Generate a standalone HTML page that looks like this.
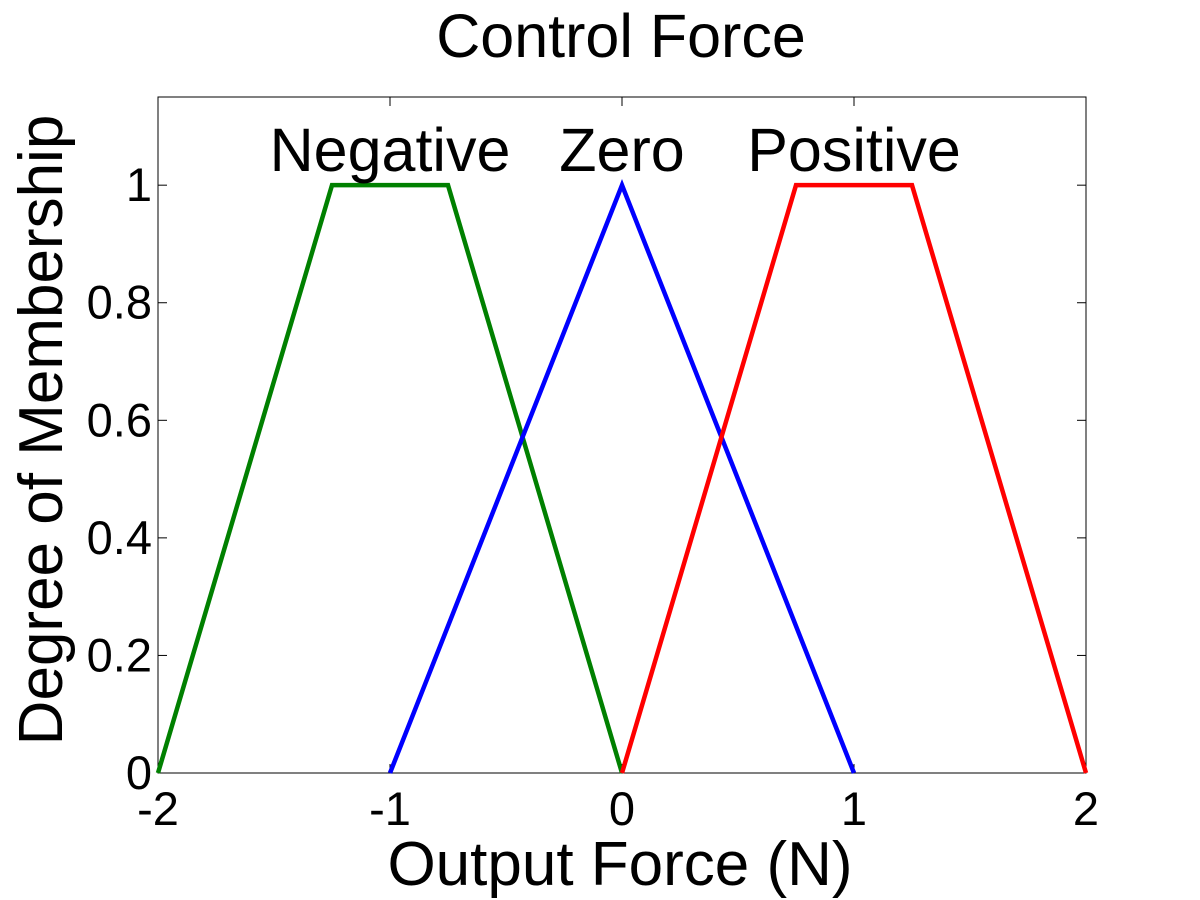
<!DOCTYPE html>
<html><head><meta charset="utf-8"><style>
body{margin:0;background:#fff}
svg{display:block;font-family:"Liberation Sans",Arial,sans-serif}
</style></head><body>
<svg id="chart" width="1200" height="900"></svg>
<script>
const xTicks=[-2,-1,0,1,2];
const yTicks=[0,0.2,0.4,0.6,0.8,1];
const yTickLabels=["0","0.2","0.4","0.6","0.8","1"];
const negX=[-2,-1.25,-0.75,0];
const negY=[0,1,1,0];
const zeroX=[-1,0,1];
const zeroY=[0,1,0];
const posX=[0,0.75,1.25,2];
const posY=[0,1,1,0];
const labelNames=["Negative","Zero","Positive"];
const labelX=[-1.0,0,1.0];

const L=158,R=1086,T=97,B=773,xMin=-2,xMax=2,yMin=0,yMax=1.15;
const sx=v=>L+(v-xMin)/(xMax-xMin)*(R-L);
const sy=v=>B-(v-yMin)/(yMax-yMin)*(B-T);
const svg=document.getElementById('chart');
const NS='http://www.w3.org/2000/svg';
function mk(tag,attrs,text){const e=document.createElementNS(NS,tag);for(const k in attrs)e.setAttribute(k,attrs[k]);if(text!==undefined)e.textContent=text;svg.appendChild(e);return e;}

let e=mk('rect',{x:L,y:T,width:R-L,height:B-T,fill:'#fff',stroke:'#000','stroke-width':1});



xTicks.forEach(v=>{
  const x=sx(v);
  let t=mk('line',{x1:x,y1:B,x2:x,y2:B-9,stroke:'#000'});
  
  
  t=mk('line',{x1:x,y1:T,x2:x,y2:T+9,stroke:'#000'});
  
  
  t=mk('text',{x:x,y:B+52,'font-size':47,'text-anchor':'middle'},String(v));
  
  
});
yTicks.forEach((v,i)=>{
  const y=sy(v);
  let t=mk('line',{x1:L,y1:y,x2:L+9,y2:y,stroke:'#000'});
  
  
  t=mk('line',{x1:R,y1:y,x2:R-9,y2:y,stroke:'#000'});
  
  
  t=mk('text',{x:L-6,y:y+16,'font-size':47,'text-anchor':'end'},yTickLabels[i]);
  
  
});

function series(xs,ys,color,name){
  const pts=xs.map((x,i)=>sx(x)+','+sy(ys[i])).join(' ');
  const p=mk('polyline',{points:pts,fill:'none',stroke:color,'stroke-width':4.5,'stroke-linejoin':'miter'});
  
  
}
series(negX,negY,'#008000','negative-line');
series(zeroX,zeroY,'#0000ff','zero-line');
series(posX,posY,'#ff0000','positive-line');

labelNames.forEach((n,i)=>{
  const t=mk('text',{x:sx(labelX[i]),y:171,'font-size':61,'text-anchor':'middle'},n);
  
  
});

let t=mk('text',{x:621,y:57,'font-size':61,'text-anchor':'middle'},'Control Force');


t=mk('text',{x:620,y:885,'font-size':62,'text-anchor':'middle'},'Output Force (N)');


t=mk('text',{x:0,y:0,'font-size':62,'text-anchor':'middle',transform:'translate(62,430) rotate(-90)'},'Degree of Membership');


</script>
</body></html>
